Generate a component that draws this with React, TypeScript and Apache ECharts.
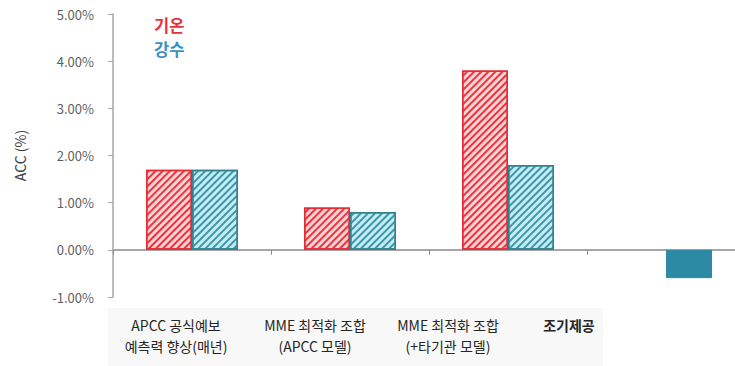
import React, { useEffect, useRef } from "react";
import * as echarts from "echarts";

const categories = ["APCC 공식예보\n예측력 향상(매년)", "MME 최적화 조합\n(APCC 모델)", "MME 최적화 조합\n(+타기관 모델)", "조기제공"];
const tempValues: (number | null)[] = [1.7, 0.9, 3.8, null];
const precipValues: number[] = [1.7, 0.8, 1.8, -0.6];
const seriesNames = ["기온", "강수"];
const yTicks = { min: -1, max: 5, interval: 1 };
const labelCenters = [176, 315, 448, 569];

const FONT = "'Noto Sans CJK KR', 'Noto Sans', sans-serif";

export default function App() {
  const ref = useRef<HTMLDivElement>(null);
  useEffect(() => {
    if (!ref.current) return;
    const chart = echarts.init(ref.current, undefined, { renderer: "svg" });
    const redDecal = {
      symbol: "rect",
      symbolSize: 1,
      dashArrayX: [1, 0],
      dashArrayY: [1.5, 2.2],
      rotation: -Math.PI / 4,
      color: "#e8363f",
    };
    const blueDecal = {
      symbol: "rect",
      symbolSize: 1,
      dashArrayX: [1, 0],
      dashArrayY: [1.5, 2.2],
      rotation: -Math.PI / 4,
      color: "#3d98ab",
    };
    chart.setOption({
      animation: false,
      textStyle: { fontFamily: FONT },
      grid: { left: 113, top: 14, bottom: 69, right: 0, containLabel: false },
      legend: {
        orient: "vertical",
        left: 143,
        top: 11,
        itemGap: 7,
        itemWidth: 0,
        itemHeight: 0,
        selectedMode: false,
        data: [
          { name: seriesNames[0], textStyle: { color: "#e8323c" } },
          { name: seriesNames[1], textStyle: { color: "#3a8fc2" } },
        ],
        textStyle: { fontSize: 16.5, fontWeight: "bold", fontFamily: FONT, lineHeight: 17 },
      },
      xAxis: {
        type: "category",
        data: categories,
        axisLine: { onZero: true, lineStyle: { color: "#a6a6a6", width: 2 } },
        axisTick: { show: true, length: 5, lineStyle: { color: "#8c8c8c", width: 1 } },
        axisLabel: { show: false },
        splitLine: { show: false },
      },
      yAxis: {
        type: "value",
        min: yTicks.min,
        max: yTicks.max,
        interval: yTicks.interval,
        name: "ACC (%)",
        nameLocation: "middle",
        nameRotate: 90,
        nameGap: 86,
        nameTextStyle: { fontSize: 14, color: "#404040", fontFamily: FONT },
        axisLine: { show: true, lineStyle: { color: "#a6a6a6", width: 1.5 } },
        axisTick: { show: true, length: 5, lineStyle: { color: "#a6a6a6" } },
        axisLabel: {
          formatter: (v: number) => v.toFixed(2) + "%",
          fontSize: 13,
          color: "#5f5f5f",
          margin: 19,
        },
        splitLine: { show: false },
      },
      series: [
        {
          name: seriesNames[0],
          type: "bar",
          barWidth: 46,
          barGap: "0%",
          data: tempValues,
          itemStyle: {
            color: "#fbd3d5",
            borderColor: "#e32d36",
            borderWidth: 1.5,
            decal: redDecal,
          },
        },
        {
          name: seriesNames[1],
          type: "bar",
          barWidth: 46,
          barGap: "0%",
          data: precipValues.map((v) =>
            v < 0
              ? { value: v, itemStyle: { color: "#2c8aa5", borderColor: "#2c8aa5", borderWidth: 1, decal: "none" } }
              : v
          ),
          itemStyle: {
            color: "#c6edf4",
            borderColor: "#33808f",
            borderWidth: 1.5,
            decal: blueDecal,
          },
        },
      ],
      graphic: [
        {
          type: "rect",
          silent: true,
          z: -1,
          shape: { x: 108, y: 308, width: 495, height: 58 },
          style: { fill: "#f8f8f8" },
        },
        ...categories.map((c, i) => ({
          type: "text",
          x: labelCenters[i],
          y: 314,
          style: {
            text: c,
            fill: "#262626",
            fontSize: 14,
            fontFamily: FONT,
            fontWeight: i === 3 ? "bold" : "normal",
            align: "center",
            verticalAlign: "top",
            lineHeight: 21,
          },
        })),
      ],
    });
    return () => chart.dispose();
  }, []);
  return (
    <div style={{ position: "absolute", left: 0, top: 0, width: 735, height: 366, overflow: "hidden", background: "#fff" }}>
      <div ref={ref} style={{ position: "absolute", left: 0, top: 0, width: 745, height: 366 }} />
    </div>
  );
}
